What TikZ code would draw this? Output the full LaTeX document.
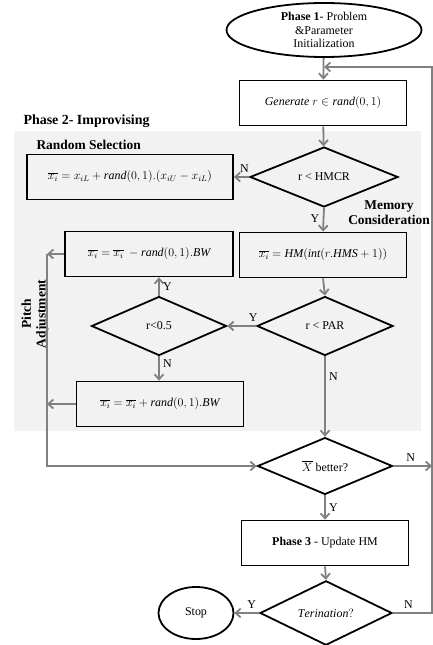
\documentclass[tikz,border=0pt]{standalone}
\usepackage{amsmath}
\usepackage{fontspec}
\setmainfont{Liberation Serif}
\usetikzlibrary{shapes.geometric,arrows.meta,positioning,calc}

\begin{document}
\begin{tikzpicture}[x=1bp, y=-1bp,
    every node/.style={font=\fontsize{12}{13.5}\selectfont},
    box/.style={rectangle, draw, line width=1.8pt, minimum width=167bp, minimum height=45bp},
    dec/.style={diamond, draw, line width=1.8pt, inner sep=0pt, minimum width=136bp, minimum height=59bp},
    term/.style={ellipse, draw, line width=1.8pt, inner sep=0pt, align=center},
    flow/.style={draw=black!50, line width=1.8pt, -{Straight Barb[length=5pt,width=9pt]}},
    phase/.style={font=\fontsize{14}{16}\selectfont\bfseries, align=center}]
            \useasboundingbox (0,0) rectangle (433,645);
            \fill[black!5] (14,131) rectangle (421,431);

            \node[term, minimum width=195bp, minimum height=54bp] (init) at (324,30)
                {\textbf{Phase 1}- Problem\\ \&Parameter\\ Initialization};
            \node[box] (gen) at (323,103) {$\mathit{Generate}\ r \in \mathit{rand}(0,1)$};
            \node[dec, minimum width=148bp] (hmcr) at (324,177) {r < HMCR};
            \node[box, minimum width=206bp] (rs) at (130,177)
                {$\overline{x_i} = x_{iL} + \mathit{rand}(0,1).(x_{iU} - x_{iL})$};
            \node[box] (hm) at (323,255) {$\overline{x_i} = \mathit{HM}(\mathit{int}(r.\mathit{HMS}+1))$};
            \node[box, minimum width=168bp] (minus) at (149,254) {$\overline{x_i} = \overline{x_i}\ - \mathit{rand}(0,1).\mathit{BW}$};
            \node[dec] (par) at (325,326) {r < PAR};
            \node[dec, minimum width=135bp] (half) at (159,326) {r<0.5};
            \node[box] (plus) at (160,404) {$\overline{x_i} = \overline{x_i} + \mathit{rand}(0,1).\mathit{BW}$};
            \node[dec, minimum width=135bp, minimum height=56bp] (xb) at (325,466) {$\overline{X}$ better?};
            \node[box] (upd) at (325,543) {\textbf{Phase 3} - Update HM};
            \node[dec, minimum width=132bp] (ter) at (326,613) {$\mathit{Terination?}$};
            \node[term, minimum width=75bp, minimum height=52bp] (stop) at (196,613) {Stop};

            \node[phase, anchor=west] (ph2) at (20,121) {Phase 2- Improvising};
            \node[phase, font=\fontsize{13.5}{15}\selectfont\bfseries, anchor=west] (rsel) at (33,145) {Random Selection};
            \node[phase, font=\fontsize{13.5}{15}\selectfont\bfseries] (mem) at (389,213) {Memory\\ Consideration};
            \node[phase, font=\fontsize{13.5}{15}\selectfont\bfseries, rotate=90] (pitch) at (35,314) {Pitch\\ Adjustment};

            \coordinate (loop) at (432,67);
            \coordinate (lft) at (47,254);

            \draw[flow] (init) -- (gen);
            \draw[flow] (gen) -- (hmcr);
            \draw[flow] (hmcr.west) -- node[above, pos=0.3] {N} (rs.east);
            \draw[flow] (hmcr.south) -- node[left, pos=0.45] {Y} (hm.north);
            \draw[flow] (hm.south) -- (par.north);
            \draw[flow] (par.west) -- node[above, pos=0.1] {Y} (half.east);
            \draw[flow] (half.north) -- node[right, pos=0.5] {Y} (minus.south -| half.north);
            \draw[flow] (half.south) -- node[right, pos=0.3] {N} (plus.north -| half.south);
            \draw[flow] (minus.west) -- (lft);
            \draw[flow] (plus.west) -- (plus.west -| lft);
            \draw[flow] (lft) |- (xb.west);
            \draw[flow] (par.south) -- node[right, pos=0.25] {N} (xb.north);
            \draw[flow] (xb.east) -- node[above, pos=0.45] {N} (xb.east -| loop);
            \draw[flow] (xb.south) -- node[right, pos=0.5] {Y} (upd.north);
            \draw[flow] (upd.south) -- (ter.north);
            \draw[flow] (ter.west) -- node[above, pos=0.3] {Y} (stop.east);
            \draw[flow] (ter.east) -- node[above, pos=0.4] {N} (ter.east -| loop) -- (loop) -- ($(loop -| gen.north)+(1,0)$);
        \end{tikzpicture}
\end{document}
